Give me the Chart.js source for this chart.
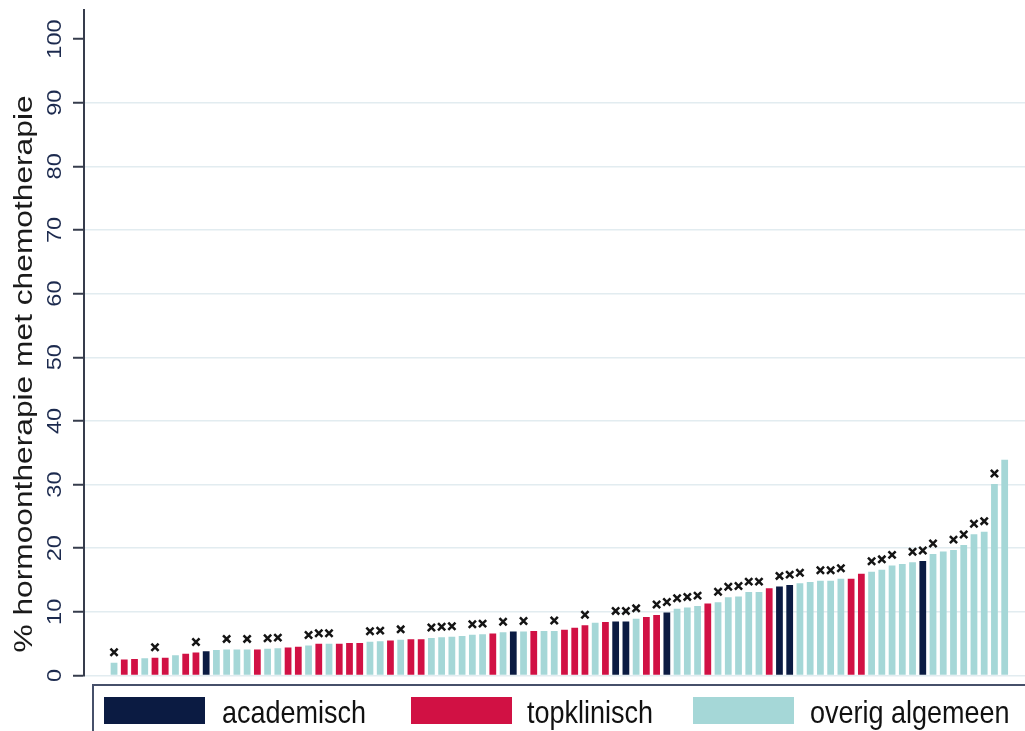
<!DOCTYPE html>
<html>
<head>
<meta charset="utf-8">
<title>Hormoontherapie met chemotherapie per ziekenhuis</title>
<script src="https://cdn.jsdelivr.net/npm/chart.js@4.4.1/dist/chart.umd.min.js"></script>
<style>
  html, body { margin: 0; padding: 0; background: #ffffff; }
  #wrap { width: 1025px; height: 731px; position: relative; }
</style>
</head>
<body>
<div id="wrap"><canvas id="chart" width="1025" height="731"></canvas></div>
<script>
// Hospital categories and their colours
const hospitalTypes = ['academisch', 'topklinisch', 'overig algemeen'];
const typeColors = ['#0b1b42', '#d11144', '#a5d7d7'];

// Percentage of hormone therapy combined with chemotherapy, one bar per hospital (sorted)
const percentages = [
  2.0, 2.5, 2.6, 2.7, 2.8, 2.8, 3.2, 3.4, 3.6, 3.8,
  4.0, 4.1, 4.1, 4.1, 4.1, 4.2, 4.3, 4.4, 4.5, 4.7,
  5.0, 5.0, 5.0, 5.1, 5.1, 5.3, 5.4, 5.5, 5.6, 5.7,
  5.7, 5.9, 6.0, 6.1, 6.2, 6.4, 6.5, 6.6, 6.8, 6.9,
  6.9, 7.0, 7.0, 7.0, 7.2, 7.5, 7.9, 8.3, 8.4, 8.5,
  8.5, 8.9, 9.2, 9.5, 9.9, 10.5, 10.7, 10.9, 11.3, 11.5,
  12.3, 12.4, 13.1, 13.1, 13.7, 14.0, 14.2, 14.5, 14.7, 14.9,
  14.9, 15.2, 15.2, 16.0, 16.3, 16.6, 17.3, 17.5, 17.8, 18.0,
  19.1, 19.5, 19.7, 20.5, 22.2, 22.6, 30.1, 33.9
];

// Hospital type per bar: 0 = academisch, 1 = topklinisch, 2 = overig algemeen
const hospitalType = [
  2, 1, 1, 2, 1, 1, 2, 1, 1, 0,
  2, 2, 2, 2, 1, 2, 2, 1, 1, 2,
  1, 2, 1, 1, 1, 2, 2, 1, 2, 1,
  1, 2, 2, 2, 2, 2, 2, 1, 2, 0,
  2, 1, 2, 2, 1, 1, 1, 2, 1, 0,
  0, 2, 1, 1, 0, 2, 2, 2, 1, 2,
  2, 2, 2, 2, 1, 0, 0, 2, 2, 2,
  2, 2, 1, 1, 2, 2, 2, 2, 2, 0,
  2, 2, 2, 2, 2, 2, 2, 2
];

// Marked hospitals (× above the bar)
const marked = [
  1, 0, 0, 0, 1, 0, 0, 0, 1, 0,
  0, 1, 0, 1, 0, 1, 1, 0, 0, 1,
  1, 1, 0, 0, 0, 1, 1, 0, 1, 0,
  0, 1, 1, 1, 0, 1, 1, 0, 1, 0,
  1, 0, 0, 1, 0, 0, 1, 0, 0, 1,
  1, 1, 0, 1, 1, 1, 1, 1, 0, 1,
  1, 1, 1, 1, 0, 1, 1, 1, 0, 1,
  1, 1, 0, 0, 1, 1, 1, 0, 1, 1,
  1, 0, 1, 1, 1, 1, 1, 0
];

// Y axis tick labels
const yTicks = [0, 10, 20, 30, 40, 50, 60, 70, 80, 90, 100];
const yTitle = '% hormoontherapie met chemotherapie';

const FONT = '"Liberation Sans", Arial, Helvetica, sans-serif';
const AXIS_COLOR = '#363c4c';
const TICK_TEXT = '#1c2a4e';

// Draws the × marks above marked bars
const markPlugin = {
  id: 'marks',
  afterDatasetsDraw(chart) {
    const ctx = chart.ctx;
    const meta = chart.getDatasetMeta(0);
    ctx.save();
    ctx.strokeStyle = '#141414';
    ctx.lineWidth = 2.5;
    ctx.lineCap = 'butt';
    meta.data.forEach((bar, i) => {
      if (!marked[i]) return;
      const cx = bar.x, cy = bar.y - 10.5, h = 3.6;
      ctx.beginPath();
      ctx.moveTo(cx - h, cy - h); ctx.lineTo(cx + h, cy + h);
      ctx.moveTo(cx + h, cy - h); ctx.lineTo(cx - h, cy + h);
      ctx.stroke();
    });
    ctx.restore();
  }
};

// Rotated tick labels, axis title and the framed legend
const textPlugin = {
  id: 'texts',
  afterDraw(chart) {
    const ctx = chart.ctx;
    const ys = chart.scales.y;

    // tick labels, reading bottom to top
    ys.ticks.forEach(t => {
      const py = ys.getPixelForValue(t.value);
      ctx.save();
      ctx.translate(61, py);
      ctx.rotate(-Math.PI / 2);
      ctx.scale(1.12, 1);
      ctx.font = '21px ' + FONT;
      ctx.fillStyle = TICK_TEXT;
      ctx.textAlign = 'center';
      ctx.textBaseline = 'alphabetic';
      ctx.fillText(String(t.value), 0, 0);
      ctx.restore();
    });

    // axis title
    ctx.save();
    ctx.translate(32, 374);
    ctx.rotate(-Math.PI / 2);
    ctx.scale(1.22, 1);
    ctx.font = '26px ' + FONT;
    ctx.fillStyle = '#1a1a1a';
    ctx.textAlign = 'center';
    ctx.textBaseline = 'alphabetic';
    ctx.fillText(yTitle, 0, 0);
    ctx.restore();

    // legend frame
    ctx.save();
    ctx.strokeStyle = '#46506a';
    ctx.lineWidth = 2;
    ctx.strokeRect(93, 685, 1000, 100);
    ctx.restore();

    // legend items
    const swatchX = [104, 411, 693];
    const textX = [222, 527, 810];
    hospitalTypes.forEach((name, i) => {
      ctx.save();
      ctx.fillStyle = typeColors[i];
      ctx.fillRect(swatchX[i], 697, 101, 27);
      ctx.translate(textX[i], 722.5);
      ctx.scale(1, 1.17);
      ctx.font = '27px ' + FONT;
      ctx.fillStyle = '#111111';
      ctx.textAlign = 'left';
      ctx.textBaseline = 'alphabetic';
      ctx.fillText(name, 0, 0);
      ctx.restore();
    });
  }
};

const barData = percentages.map((v, i) => ({ x: i + 1, y: v }));

new Chart(document.getElementById('chart').getContext('2d'), {
  type: 'bar',
  data: {
    datasets: [{
      label: yTitle,
      data: barData,
      backgroundColor: hospitalType.map(t => typeColors[t]),
      borderWidth: 0,
      barPercentage: 0.66,
      categoryPercentage: 1.0
    }]
  },
  options: {
    responsive: false,
    animation: false,
    devicePixelRatio: 1,
    layout: { padding: { top: 10, bottom: 55.5, left: 0, right: 0 } },
    plugins: { legend: { display: false }, tooltip: { enabled: false } },
    scales: {
      x: {
        type: 'linear',
        min: -1.934,
        max: 89.985,
        offset: false,
        bounds: 'data',
        display: false
      },
      y: {
        min: 0,
        max: 104.56,
        afterFit(scale) { scale.width = 84; },
        afterBuildTicks(scale) { scale.ticks = yTicks.map(v => ({ value: v })); },
        ticks: { display: false },
        grid: {
          color: c => (c.tick && c.tick.value === 100) ? 'rgba(0,0,0,0)' : '#e2ecf0',
          lineWidth: 1.5,
          drawTicks: true,
          tickLength: 11,
          tickColor: AXIS_COLOR,
          tickWidth: 2
        },
        border: { display: true, color: AXIS_COLOR, width: 2 }
      }
    }
  },
  plugins: [markPlugin, textPlugin]
});
</script>
</body>
</html>
